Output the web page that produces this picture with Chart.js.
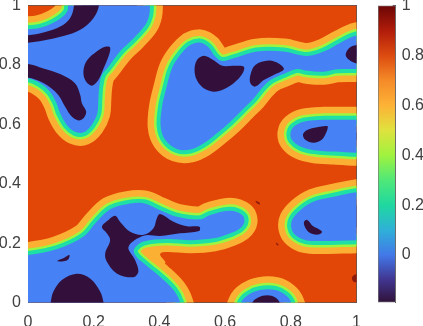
<!DOCTYPE html>
<html>
<head>
<meta charset="utf-8">
<script src="https://cdn.jsdelivr.net/npm/chart.js@4"></script>
<style>
  html, body { margin: 0; padding: 0; background: #fff; overflow: hidden; }
  #field { position: absolute; left: 0; top: 0; }
  #bar { position: absolute; left: 370px; top: 0; }
</style>
</head>
<body>
<canvas id="field" width="360" height="326"></canvas>
<canvas id="bar" width="53" height="326"></canvas>
<script>
// contour outlines in data units, points outside 0..1 are cut off by the axes
const frame = [[0,0],[1,0],[1,1],[0,1]];

const blueA = [[-.06,.92],[0,.92],[.037,.925],[.077,.942],[.108,.965],[.121,.985],[.13,1.06],[.371,1.06],[.371,1],[.369,.968],[.357,.934],[.321,.889],[.28,.845],[.245,.794],[.225,.766],[.217,.727],[.214,.682],[.211,.637],[.194,.598],[.169,.573],[.143,.575],[.118,.598],[.098,.637],[.087,.671],[.067,.71],[.037,.738],[0,.755],[-.06,.755]];
const blueB = [[.525,.875],[.55,.859],[.57,.828],[.591,.813],[.626,.822],[.697,.845],[.778,.845],[.849,.83],[.9,.845],[.951,.875],[1,.899],[1.06,.899],[1.06,.786],[1,.786],[.941,.785],[.9,.777],[.849,.78],[.819,.786],[.778,.769],[.738,.749],[.712,.721],[.687,.687],[.657,.654],[.616,.609],[.575,.57],[.535,.536],[.494,.515],[.453,.517],[.418,.547],[.404,.592],[.408,.659],[.421,.721],[.438,.788],[.463,.833],[.494,.867]];
const blueC = [[1.06,.615],[1,.615],[.9,.615],[.839,.609],[.809,.592],[.799,.57],[.804,.547],[.829,.525],[.87,.513],[.931,.508],[1,.504],[1.06,.504]];
const blueD = [[-.06,.16],[0,.16],[.087,.179],[.169,.222],[.209,.272],[.25,.314],[.301,.331],[.352,.334],[.402,.311],[.453,.289],[.524,.28],[.555,.295],[.616,.309],[.652,.295],[.659,.272],[.646,.25],[.616,.233],[.565,.216],[.494,.21],[.423,.214],[.352,.205],[.324,.182],[.326,.16],[.352,.132],[.402,.087],[.443,.042],[.463,0],[.47,-.06],[-.06,-.06]];
const blueE = [[1.06,.371],[1,.371],[.931,.356],[.87,.34],[.829,.311],[.804,.278],[.802,.25],[.814,.227],[.845,.21],[.9,.207],[1,.21],[1.06,.21]];
const blueF = [[.64,-.06],[.649,0],[.672,.027],[.707,.042],[.753,.042],[.784,.025],[.801,0],[.81,-.06]];

const yellowTip = [[.341,.194],[.413,.173],[.402,.162],[.418,.132],[.352,.126]];

const navyA = [[-.06,.9],[0,.9],[.047,.909],[.098,.929],[.128,.957],[.14,1],[.14,1.06],[.216,1.06],[.216,1],[.199,.957],[.159,.918],[.108,.897],[.047,.882],[0,.875],[-.06,.875]];
const navyB = [[.25,.859],[.245,.828],[.23,.788],[.214,.749],[.194,.73],[.174,.749],[.169,.783],[.181,.817],[.209,.845],[.235,.861]];
const navyC = [[-.06,.803],[0,.803],[.047,.788],[.098,.769],[.143,.738],[.159,.699],[.164,.671],[.177,.643],[.169,.62],[.153,.613],[.133,.626],[.113,.659],[.092,.699],[.057,.732],[.026,.749],[0,.757],[-.06,.757]];
const navyD = [[.535,.831],[.565,.816],[.591,.797],[.626,.797],[.657,.794],[.652,.769],[.626,.738],[.596,.718],[.565,.71],[.535,.721],[.514,.749],[.507,.783],[.514,.816]];
const navyE = [[.733,.815],[.763,.805],[.779,.785],[.748,.766],[.718,.749],[.692,.727],[.677,.738],[.677,.766],[.692,.8]];
const navyF = [[1.06,.867],[1,.867],[.977,.856],[.967,.833],[.977,.817],[1,.805],[1.06,.805]];
const navyG = [[.88,.59],[.911,.594],[.911,.581],[.895,.549],[.87,.538],[.845,.547],[.837,.566],[.85,.581]];
const navyH = [[.06,-.06],[.069,0],[.077,.036],[.103,.076],[.148,.097],[.189,.081],[.22,.036],[.23,0],[.24,-.06]];
const navyI = [[.265,.292],[.245,.278],[.225,.255],[.24,.233],[.25,.21],[.235,.166],[.24,.137],[.27,.098],[.321,.085],[.336,.104],[.326,.143],[.306,.188],[.352,.225],[.402,.224],[.463,.233],[.521,.241],[.522,.255],[.484,.257],[.443,.272],[.402,.298],[.392,.283],[.382,.25],[.352,.228],[.311,.238],[.28,.272]];
const navyJ = [[.089,.14],[.108,.149],[.126,.16],[.123,.146],[.108,.139]];
const navyK = [[.85,.278],[.865,.259],[.895,.239],[.885,.229],[.86,.233],[.845,.25],[.84,.27]];
const navyL = [[.675,-.06],[.683,0],[.701,.017],[.728,.024],[.753,.017],[.766,0],[.775,-.06]];

const speckA = [[.693,.343],[.705,.336],[.706,.33],[.696,.335]];
const speckB = [[.756,.201],[.763,.194],[.76,.192],[.755,.198]];
const speckC = [[1.06,.095],[1,.095],[.989,.089],[.986,.081],[.991,.07],[1,.068],[1.06,.068]];

const blueRegions = [blueA, blueB, blueC, blueD, blueE, blueF];
const navyRegions = [navyA, navyB, navyC, navyD, navyE, navyF, navyG, navyH, navyI, navyJ, navyK, navyL];
const speckRegions = [speckA, speckB, speckC];

const axisTicks = [0, 0.2, 0.4, 0.6, 0.8, 1];
const barTicks = [0, 0.2, 0.4, 0.6, 0.8, 1];
const barRange = [-0.19, 1];
const barStops = [-0.19, -0.1, 0, 0.1, 0.2, 0.3, 0.4, 0.5, 0.6, 0.7, 0.8, 0.9, 1];
const barColors = ['#2f1238', '#41348f', '#4278e8', '#2fb0d8', '#1fd8a0', '#4fe878', '#a0f23f', '#dfe23e', '#fdb236', '#f58a28', '#dc4b10', '#b01c0a', '#6b0606'];

const ink = '#404040';
const edge = '#555';
const font = { family: '"Liberation Sans", Arial, sans-serif', size: 16 };

const rings = [
  { color: '#fbb034', width: 26 },
  { color: '#9cf53f', width: 13 },
  { color: '#1edfa5', width: 8 }
];

function shape(points, opts) {
  // wrap around by one point each way so the curve has no kink at the seam
  const closed = [points[points.length - 1]].concat(points, [points[0], points[1]]);
  return Object.assign({
    data: closed.map(p => ({ x: p[0], y: p[1] })),
    showLine: true,
    pointRadius: 0,
    tension: 0.35,
    clip: 0,
    borderWidth: 0,
    borderColor: 'transparent',
    borderJoinStyle: 'round',
    borderCapStyle: 'round',
    capBezierPoints: false,
    fill: false
  }, opts);
}

const layers = [];
layers.push(shape(frame, { tension: 0, fill: 'shape', backgroundColor: '#e24708' }));
speckRegions.forEach(r => layers.push(shape(r, { fill: 'shape', backgroundColor: '#8e1a0c' })));
rings.forEach((ring, i) => {
  blueRegions.forEach(r => layers.push(shape(r, { borderColor: ring.color, borderWidth: ring.width })));
  if (i === 0) layers.push(shape(yellowTip, { fill: 'shape', backgroundColor: ring.color }));
});
blueRegions.forEach(r => layers.push(shape(r, { fill: 'shape', backgroundColor: '#4682f5' })));
navyRegions.forEach(r => layers.push(shape(r, { fill: 'shape', backgroundColor: '#33103c' })));

// fixed axis band, no extra room for the end labels
function fixSize(s, size) {
  if (s.isHorizontal()) s.height = size; else s.width = size;
  s.paddingLeft = s.paddingRight = s.paddingTop = s.paddingBottom = 0;
}

function inwardAxis(position, size, showLabels, padding) {
  return {
    type: 'linear',
    position: position,
    min: 0,
    max: 1,
    z: 1,
    afterBuildTicks: s => { s.ticks = axisTicks.map(v => ({ value: v })); },
    afterFit: s => fixSize(s, size),
    grid: { drawOnChartArea: false, tickLength: -3, tickColor: edge, tickWidth: 1 },
    border: { color: edge, width: 1 },
    ticks: {
      display: showLabels,
      color: ink,
      font: font,
      padding: padding,
      maxRotation: 0,
      callback: v => String(+v.toFixed(1))
    }
  };
}

new Chart(document.getElementById('field'), {
  type: 'scatter',
  data: { datasets: layers.map((d, i) => Object.assign(d, { order: layers.length - i })) },
  options: {
    responsive: false,
    animation: false,
    events: [],
    layout: { padding: 0, autoPadding: false },
    plugins: { legend: { display: false }, tooltip: { enabled: false } },
    scales: {
      x: inwardAxis('bottom', 23.5, true, 13),
      y: inwardAxis('left', 28, true, 10),
      xTop: inwardAxis('top', 5.5, false, 0),
      yRight: inwardAxis('right', 3.5, false, 0)
    }
  }
});

function barGradient(context) {
  const area = context.chart.chartArea;
  if (!area) return barColors[0];
  const g = context.chart.ctx.createLinearGradient(0, area.bottom, 0, area.top);
  const span = barRange[1] - barRange[0];
  barStops.forEach((v, i) => g.addColorStop((v - barRange[0]) / span, barColors[i]));
  return g;
}

new Chart(document.getElementById('bar'), {
  type: 'bar',
  data: {
    labels: [''],
    datasets: [{
      data: [barRange],
      backgroundColor: barGradient,
      borderColor: '#777',
      borderWidth: 1,
      borderSkipped: false,
      barPercentage: 1,
      categoryPercentage: 1
    }]
  },
  options: {
    responsive: false,
    animation: false,
    events: [],
    layout: { padding: { left: 8, top: 5.5 }, autoPadding: false },
    plugins: { legend: { display: false }, tooltip: { enabled: false } },
    scales: {
      x: {
        display: true,
        afterFit: s => fixSize(s, 23.5),
        grid: { display: false },
        border: { display: false },
        ticks: { display: false }
      },
      y: {
        position: 'right',
        min: barRange[0],
        max: barRange[1],
        z: 1,
        afterBuildTicks: s => { s.ticks = barTicks.map(v => ({ value: v })); },
        afterFit: s => fixSize(s, 27.3),
        grid: { drawOnChartArea: false, tickLength: -3, tickColor: edge, tickWidth: 1 },
        border: { color: edge, width: 1 },
        ticks: { color: ink, font: font, padding: 9, callback: v => String(+v.toFixed(1)) }
      }
    }
  }
});
</script>
</body>
</html>
